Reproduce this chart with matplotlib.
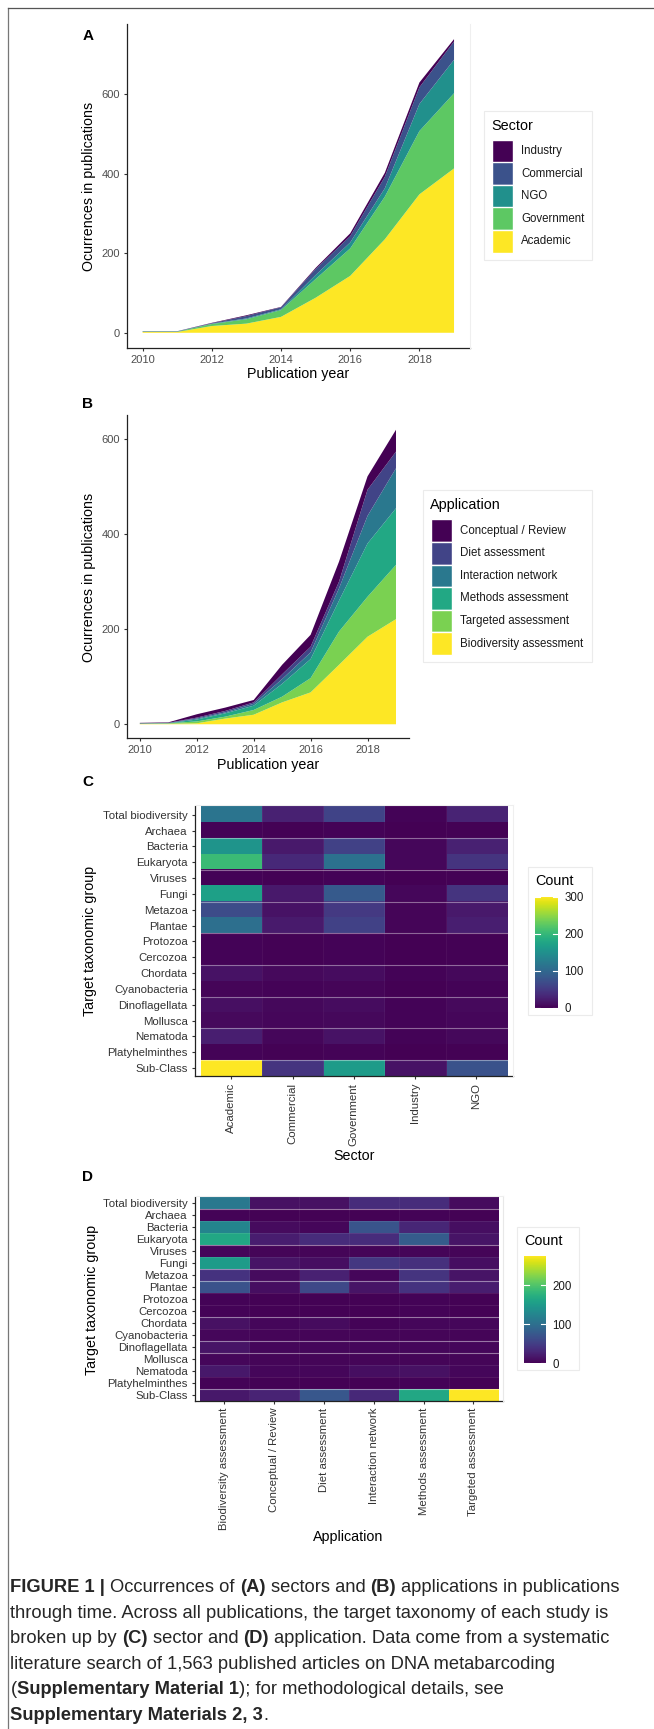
import matplotlib
matplotlib.use("Agg")
import matplotlib.pyplot as plt
import numpy as np
from matplotlib.patches import Rectangle
from matplotlib.lines import Line2D

plt.rcParams['font.family'] = ['Liberation Sans', 'DejaVu Sans']

W, H, DPI = 654, 1729, 100

# ---- data -------------------------------------------------------------
years = [2010, 2011, 2012, 2013, 2014, 2015, 2016, 2017, 2018, 2019]

# panel A, occurrences per sector
academic   = [2, 2, 17, 23, 40, 88, 143, 235, 348, 413]
government = [1, 1, 5, 11, 17, 47, 69, 107, 159, 189]
ngo        = [0, 0, 1, 2, 2, 10, 15, 21, 68, 84]
commercial = [1, 1, 1, 6, 5, 15, 16, 29, 42, 46]
industry   = [0, 0, 1, 2, 1, 3, 7, 10, 12, 6]

# panel B, occurrences per application
biodiversity = [1, 1, 2, 12, 20, 46, 67, 125, 184, 221]
targeted     = [0, 1, 4, 4, 10, 12, 30, 70, 84, 114]
methods      = [1, 0, 4, 7, 9, 27, 40, 65, 112, 119]
interaction  = [0, 1, 2, 2, 4, 10, 14, 26, 58, 84]
diet         = [0, 0, 2, 3, 3, 10, 12, 14, 55, 35]
conceptual   = [1, 1, 7, 7, 5, 20, 25, 42, 28, 46]

sector_labels = ["Industry", "Commercial", "NGO", "Government", "Academic"]
app_labels = ["Conceptual / Review", "Diet assessment", "Interaction network",
              "Methods assessment", "Targeted assessment", "Biodiversity assessment"]

taxa = ["Total biodiversity", "Archaea", "Bacteria", "Eukaryota", "Viruses", "Fungi",
        "Metazoa", "Plantae", "Protozoa", "Cercozoa", "Chordata", "Cyanobacteria",
        "Dinoflagellata", "Mollusca", "Nematoda", "Platyhelminthes", "Sub-Class"]

sectors = ["Academic", "Commercial", "Government", "Industry", "NGO"]
applications = ["Biodiversity assessment", "Conceptual / Review", "Diet assessment",
                "Interaction network", "Methods assessment", "Targeted assessment"]

# panel C, taxa x sector counts
count_sector = [
    [115, 28, 60, 3, 30],
    [3, 2, 3, 1, 2],
    [155, 20, 58, 5, 28],
    [205, 35, 112, 5, 45],
    [3, 2, 3, 1, 2],
    [170, 20, 85, 5, 45],
    [70, 15, 50, 4, 20],
    [110, 22, 58, 4, 25],
    [3, 2, 3, 1, 2],
    [3, 2, 3, 1, 2],
    [15, 8, 10, 3, 6],
    [4, 3, 4, 1, 3],
    [12, 6, 10, 3, 8],
    [8, 5, 6, 3, 5],
    [25, 5, 15, 3, 6],
    [3, 2, 3, 1, 2],
    [300, 45, 165, 15, 75],
]

# panel D, taxa x application counts
count_app = [
    [110, 12, 12, 35, 35, 8],
    [3, 2, 2, 2, 3, 2],
    [125, 8, 5, 72, 30, 10],
    [166, 22, 35, 35, 80, 15],
    [5, 4, 4, 4, 4, 4],
    [152, 15, 10, 45, 38, 10],
    [40, 8, 25, 5, 42, 15],
    [69, 10, 60, 15, 40, 22],
    [3, 2, 2, 2, 3, 2],
    [3, 2, 2, 2, 3, 2],
    [12, 5, 8, 3, 5, 5],
    [5, 4, 4, 4, 4, 4],
    [15, 5, 5, 5, 5, 5],
    [5, 4, 4, 4, 4, 4],
    [18, 5, 5, 10, 12, 5],
    [3, 2, 2, 2, 3, 2],
    [18, 28, 75, 32, 165, 276],
]

sector_cols = ["#440154", "#3B528B", "#21908C", "#5DC863", "#FDE725"]
app_cols = ["#440154", "#414487", "#2A788E", "#22A884", "#7AD151", "#FDE725"]

# ---- helpers ----------------------------------------------------------
fig = plt.figure(figsize=(W / DPI, H / DPI), dpi=DPI)


def fx(x):
    return x / W


def fy(y):
    return 1 - y / H


def box(l, t, r, b):
    return [fx(l), fy(b), (r - l) / W, (b - t) / H]


def style_axis(ax):
    for s in ["top", "right"]:
        ax.spines[s].set_visible(False)
    for s in ["left", "bottom"]:
        ax.spines[s].set_color("#222222")
        ax.spines[s].set_linewidth(0.9)
    ax.tick_params(length=2.4, width=0.8, color="#333333", labelsize=8,
                   labelcolor="#4D4D4D", pad=2.5)


def ftext(x, y, s, **kw):
    return fig.text(fx(x), fy(y), s, **kw)


def legend_box(l, t, r, b):
    fig.patches.append(Rectangle((fx(l), fy(b)), (r - l) / W, (b - t) / H,
                                 transform=fig.transFigure, fc="white",
                                 ec="#EBEBEB", lw=0.8, zorder=-1))


def draw_keys(labels, colors, kx, ktop, kw, kh, lx):
    for i, (lab, c) in enumerate(zip(labels, colors)):
        y0 = ktop + i * kh
        fig.patches.append(Rectangle((fx(kx), fy(y0 + kh)), kw / W, kh / H,
                                     transform=fig.transFigure, fc=c,
                                     ec="white", lw=1.0))
        ftext(lx, y0 + kh / 2, lab, fontsize=8.3, va="center", ha="left",
              color="#1A1A1A")


def vline_px(x, y0, y1, color, lw=0.8):
    fig.lines.append(Line2D([fx(x), fx(x)], [fy(y0), fy(y1)],
                            transform=fig.transFigure, color=color, lw=lw))


def hline_px(y, x0, x1, color, lw=0.8):
    fig.lines.append(Line2D([fx(x0), fx(x1)], [fy(y), fy(y)],
                            transform=fig.transFigure, color=color, lw=lw))


# page border (left and top only)
vline_px(7.5, 8.3, H, "#777777", 0.9)
hline_px(8.3, 7.5, W, "#555555", 0.9)

# ---- panel A ----------------------------------------------------------
axA = fig.add_axes(box(127, 24, 469.6, 347.7))
axA.stackplot(years, academic, government, ngo, commercial, industry,
              colors=sector_cols[::-1], lw=0)
axA.set_xlim(2009.55, 2019.45)
axA.set_ylim(-37.5, 776)
axA.set_xticks([2010, 2012, 2014, 2016, 2018])
axA.set_yticks([0, 200, 400, 600])
style_axis(axA)
vline_px(469.6, 24, 347.7, "#EFEFEF", 0.8)
ftext(88, 36, "A", fontsize=11, fontweight="bold", ha="center", va="center")
ftext(298, 374, "Publication year", fontsize=10.3, ha="center", va="center")
ftext(89, 186, "Ocurrences in publications", fontsize=10.3, rotation=90,
      ha="center", va="center")

legend_box(484, 110.7, 592, 260)
ftext(491, 125.5, "Sector", fontsize=10.4, ha="left", va="center")
draw_keys(sector_labels, sector_cols, 492.3, 140, 21, 22.5, 521.3)

# ---- panel B ----------------------------------------------------------
axB = fig.add_axes(box(127, 415, 408.8, 738.3))
axB.stackplot(years, biodiversity, targeted, methods, interaction, diet, conceptual,
              colors=app_cols[::-1], lw=0)
axB.set_xlim(2009.55, 2019.45)
axB.set_ylim(-29.5, 650)
axB.set_xticks([2010, 2012, 2014, 2016, 2018])
axB.set_yticks([0, 200, 400, 600])
style_axis(axB)
ftext(88, 404, "B", fontsize=11, fontweight="bold", ha="center", va="center")
ftext(268, 765, "Publication year", fontsize=10.3, ha="center", va="center")
ftext(89, 577, "Ocurrences in publications", fontsize=10.3, rotation=90,
      ha="center", va="center")

legend_box(423, 490, 592, 661.7)
ftext(430, 505, "Application", fontsize=10.4, ha="left", va="center")
draw_keys(app_labels, app_cols, 431, 519.3, 21, 22.6, 460)


# ---- heatmaps ---------------------------------------------------------
def heatmap(axbox, data, cols, vmax, sep_rows, cbox, ticks, legbox, title_xy,
            faint_rows=False):
    ax = fig.add_axes(axbox)
    arr = np.array(data, dtype=float)
    im = ax.imshow(arr, cmap="viridis", vmin=0, vmax=vmax, aspect="auto",
                   interpolation="nearest")
    ncol = arr.shape[1]
    ax.set_xlim(-0.6, ncol - 0.4)
    ax.set_ylim(len(taxa) - 0.5, -0.55)
    ax.set_yticks(range(len(taxa)))
    ax.set_yticklabels(taxa)
    ax.set_xticks(range(ncol))
    ax.set_xticklabels(cols, rotation=90, ha="center", va="top")
    style_axis(ax)
    ax.tick_params(labelsize=8.2, labelcolor="#333333")
    if faint_rows:
        for r in range(1, len(taxa)):
            ax.axhline(r - 0.5, xmin=0.015, xmax=0.985, color="white",
                       alpha=0.1, lw=0.6)
    for r in sep_rows:
        ax.axhline(r, xmin=0.015, xmax=0.985, color="white", alpha=0.4, lw=0.8)
    for c in range(1, ncol):
        ax.axvline(c - 0.5, ymin=0, ymax=1, color="white", alpha=0.06, lw=0.6)
    legend_box(*legbox)
    ftext(title_xy[0], title_xy[1], "Count", fontsize=10.4, ha="left", va="center")
    cax = fig.add_axes(cbox)
    cb = fig.colorbar(im, cax=cax, ticks=ticks)
    cb.outline.set_visible(False)
    cax.tick_params(length=0, labelsize=8.3, labelcolor="#1A1A1A", pad=5)
    tr = cax.get_yaxis_transform()
    for t in ticks:
        cax.plot([0, 0.2], [t, t], color="white", lw=0.8, transform=tr)
        cax.plot([0.8, 1], [t, t], color="white", lw=0.8, transform=tr)
    return ax


axC = heatmap(box(194.6, 806, 513, 1076), count_sector, sectors, 300,
              [1.5, 3.5, 5.5, 7.5, 9.5, 11.5, 13.5, 15.5],
              box(535.4, 896.7, 557.5, 1008), [0, 100, 200, 300],
              (528, 866.7, 592, 1015), (535, 881))
vline_px(513, 805, 1076, "#EFEFEF", 0.8)
hline_px(805, 194.6, 513, "#EFEFEF", 0.8)
ftext(87.5, 781.7, "C", fontsize=11, fontweight="bold", ha="center", va="center")
ftext(354, 1156, "Sector", fontsize=10.3, ha="center", va="center")
ftext(89.6, 941, "Target taxonomic group", fontsize=10.3, rotation=90,
      ha="center", va="center")

axD = heatmap(box(194.6, 1196.5, 503.3, 1400.7), count_app, applications, 276,
              [0.5, 3.5, 5.5, 6.5, 9.5, 11.5, 12.5, 15.5],
              box(524.3, 1255.7, 545.7, 1363.3), [0, 100, 200],
              (516.7, 1226.7, 579.3, 1370), (524.3, 1241), faint_rows=True)
vline_px(503.3, 1196, 1400.7, "#E8E8E8", 0.8)
hline_px(1196, 194.6, 503.3, "#EFEFEF", 0.8)
ftext(87.5, 1176.7, "D", fontsize=11, fontweight="bold", ha="center", va="center")
ftext(348, 1536.7, "Application", fontsize=10.3, ha="center", va="center")
ftext(91.7, 1300, "Target taxonomic group", fontsize=10.3, rotation=90,
      ha="center", va="center")

# ---- caption ----------------------------------------------------------
renderer = fig.canvas.get_renderer()
cap_color = "#262626"

caption = [
    [("FIGURE 1 |", True), (" Occurrences of ", False), ("(A)", True),
     (" sectors and ", False), ("(B)", True), (" applications in publications", False)],
    [("through time. Across all publications, the target taxonomy of each study is", False)],
    [("broken up by ", False), ("(C)", True), (" sector and ", False), ("(D)", True),
     (" application. Data come from a systematic", False)],
    [("literature search of 1,563 published articles on DNA metabarcoding", False)],
    [("(", False), ("Supplementary Material 1", True),
     ("); for methodological details, see", False)],
    [("Supplementary Materials 2, 3", True), (".", False)],
]


def measure(s, size, bold=False):
    t = fig.text(0, 0, s, fontsize=size, fontweight="bold" if bold else "normal")
    w = t.get_window_extent(renderer).width
    t.remove()
    return w


def caption_line(y, runs, size, x=10.4, draw=True):
    space_w = measure("x x", size) - measure("xx", size)
    cur = x
    for s, bold in runs:
        lead = len(s) - len(s.lstrip(" "))
        trail = len(s) - len(s.rstrip(" "))
        cur += lead * space_w
        core = s.strip(" ")
        if core:
            if draw:
                t = fig.text(fx(cur), fy(y), core, fontsize=size,
                             fontweight="bold" if bold else "normal",
                             color=cap_color, ha="left", va="baseline")
                cur = t.get_window_extent(renderer).x1
            else:
                cur += measure(core, size, bold)
        cur += trail * space_w
    return cur


# pick a size so that the first line ends where the reference line ends
base = 11.0
end0 = caption_line(0, caption[0], base, draw=False)
cap_size = base * (620 - 10.4) / (end0 - 10.4)

for i, runs in enumerate(caption):
    caption_line(1592 + 25.6 * i, runs, cap_size)

fig.savefig("out.png", dpi=DPI)
